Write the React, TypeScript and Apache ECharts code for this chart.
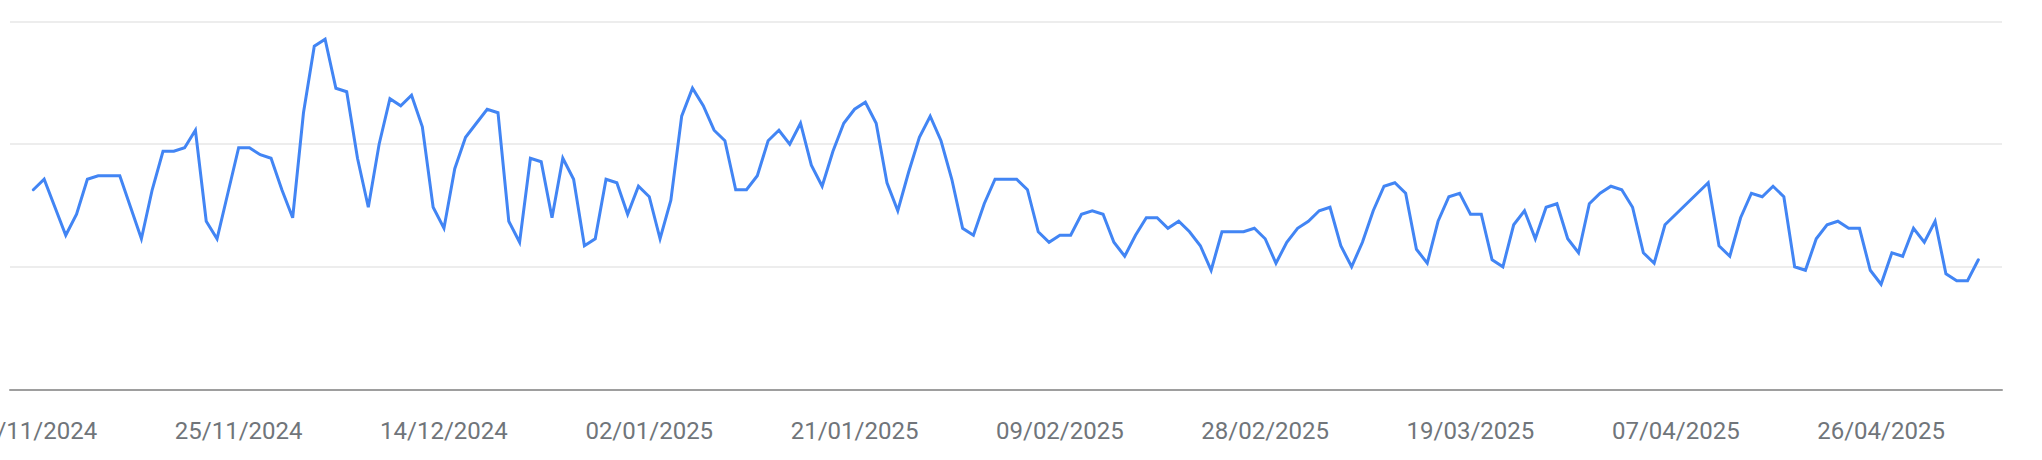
import React, { useEffect, useRef } from "react";
import * as echarts from "echarts";

// Daily interest values, 06/11/2024 .. 05/05/2025 (index 0 = 06/11/2024)
const values: number[] = [
  57, 60, 52, 44, 50, 60, 61, 61, 61, 52,
  43, 57, 68, 68, 69, 74, 48, 43, 56, 69,
  69, 67, 66, 57, 49, 79, 98, 100, 86, 85,
  66, 52, 70, 83, 81, 84, 75, 52, 46, 63,
  72, 76, 80, 79, 48, 42, 66, 65, 49, 66,
  60, 41, 43, 60, 59, 50, 58, 55, 43, 54,
  78, 86, 81, 74, 71, 57, 57, 61, 71, 74,
  70, 76, 64, 58, 68, 76, 80, 82, 76, 59,
  51, 62, 72, 78, 71, 60, 46, 44, 53, 60,
  60, 60, 57, 45, 42, 44, 44, 50, 51, 50,
  42, 38, 44, 49, 49, 46, 48, 45, 41, 34,
  45, 45, 45, 46, 43, 36, 42, 46, 48, 51,
  52, 41, 35, 42, 51, 58, 59, 56, 40, 36,
  48, 55, 56, 50, 50, 37, 35, 47, 51, 43,
  52, 53, 43, 39, 53, 56, 58, 57, 52, 39,
  36, 47, 50, 53, 56, 59, 41, 38, 49, 56,
  55, 58, 55, 35, 34, 43, 47, 48, 46, 46,
  34, 30, 39, 38, 46, 42, 48, 33, 31, 31,
  37,
];

// Day indices of the x-axis labels and their texts
const tickIndices: number[] = [0, 19, 38, 57, 76, 95, 114, 133, 152, 171];
const tickLabels: string[] = [
  "06/11/2024",
  "25/11/2024",
  "14/12/2024",
  "02/01/2025",
  "21/01/2025",
  "09/02/2025",
  "28/02/2025",
  "19/03/2025",
  "07/04/2025",
  "26/04/2025",
];

const yTicks: number[] = [0, 35, 70, 105];

export default function App() {
  const ref = useRef<HTMLDivElement>(null);

  useEffect(() => {
    if (!ref.current) return;
    const chart = echarts.init(ref.current, undefined, { renderer: "svg" });
    const lastIndex = values.length - 1;
    chart.setOption({
      animation: false,
      backgroundColor: "#ffffff",
      grid: {
        left: 10,
        right: 40,
        top: 21.7,
        bottom: 70.7,
        containLabel: false,
        outerBoundsMode: "none",
      },
      xAxis: {
        type: "value",
        min: -2.16,
        max: lastIndex + 2.19,
        axisLine: { show: true, lineStyle: { color: "#9e9e9e", width: 2 } },
        axisTick: { show: false },
        splitLine: { show: false },
        axisLabel: {
          customValues: tickIndices,
          formatter: (v: number) => {
            const k = tickIndices.indexOf(Math.round(v));
            return k >= 0 ? tickLabels[k] : "";
          },
          fontSize: 24,
          color: "#70757a",
          fontFamily: "Roboto",
          margin: 30,
        },
      },
      yAxis: {
        type: "value",
        min: yTicks[0],
        max: yTicks[yTicks.length - 1],
        interval: yTicks[1] - yTicks[0],
        axisLine: { show: false },
        axisTick: { show: false },
        axisLabel: { show: false },
        splitLine: { show: true, lineStyle: { color: "#ededed", width: 2 } },
      },
      series: [
        {
          type: "line",
          data: values.map((v, i) => [i, v]),
          showSymbol: false,
          symbol: "none",
          lineStyle: { color: "#4285f4", width: 3, join: "miter", cap: "round" },
          z: 3,
        },
      ],
    });
    return () => chart.dispose();
  }, []);

  return (
    <div
      ref={ref}
      style={{ position: "fixed", left: 0, top: 0, width: 2042, height: 460, background: "#fff" }}
    />
  );
}
